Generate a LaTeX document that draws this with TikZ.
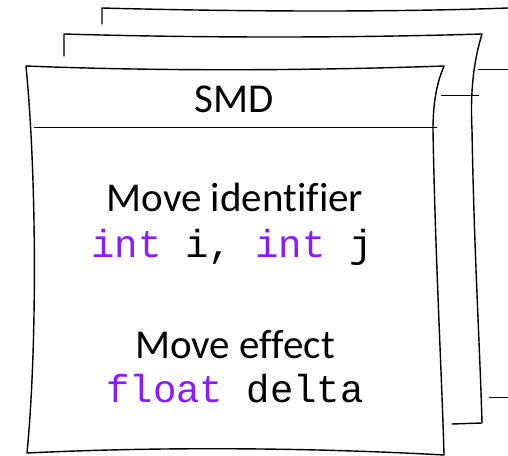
\documentclass[tikz,border=0pt]{standalone}
\usepackage{fontspec}
\setmainfont[Ligatures=NoCommon]{Carlito}
\newfontfamily\codefont{Liberation Mono}
\usepackage{xcolor}
\usepackage{tikz}
\usetikzlibrary{positioning}
\definecolor{kwpurple}{RGB}{138,26,255}
\newcommand{\kw}[1]{\textcolor{kwpurple}{#1}}
\tikzset{
  cardedge/.style={black, line width=1.4pt, line join=round, line cap=round},
  divider/.style={black, line width=0.9pt},
  title/.style={font=\fontsize{41}{46}\selectfont, anchor=base, inner sep=0pt},
  code/.style={font=\codefont\fontsize{39}{44}\selectfont, anchor=base, inner sep=0pt}
}

\begin{document}
\begin{tikzpicture}[x=1pt, y=-1pt]
  \useasboundingbox (0,0) rectangle (508,455);

  % back card
  \draw[cardedge] (102,24) -- (102,8)
    .. controls (250,12) and (400,12) .. (508,8);
  \draw[divider] (478,69) -- (508,69);
  \draw[divider] (489,397) -- (508,397);

  % middle card
  \draw[cardedge] (64,56) -- (64,34)
    .. controls (200,38) and (350,38) .. (482,34)
    .. controls (474,60) and (470,90) .. (472,130)
    .. controls (474,250) and (480,350) .. (482,423)
    -- (452,424);
  \draw[divider] (441,95) -- (479,95);

  % front card
  \draw[cardedge, fill=white] (26,66)
    .. controls (150,71) and (300,71) .. (444,66)
    .. controls (436,85) and (433,105) .. (433,130)
    .. controls (435,250) and (442,380) .. (444,455)
    .. controls (300,447) and (150,447) .. (27,453)
    .. controls (37,350) and (37,180) .. (26,66) -- cycle;
  \draw[divider] (34,127) -- (437,127);

  % texts
  \node[title] (smd) at (234,112) {SMD};
  \node[title] (moveid) at (235,211) {Move identifier};
  \node[code] (idvars) at (232,257) {\kw{int} i, \kw{int} j};
  \node[title] (moveeff) at (235,358) {Move effect};
  \node[code] (effvar) at (235,402) {\kw{float} delta};
\end{tikzpicture}
\end{document}
